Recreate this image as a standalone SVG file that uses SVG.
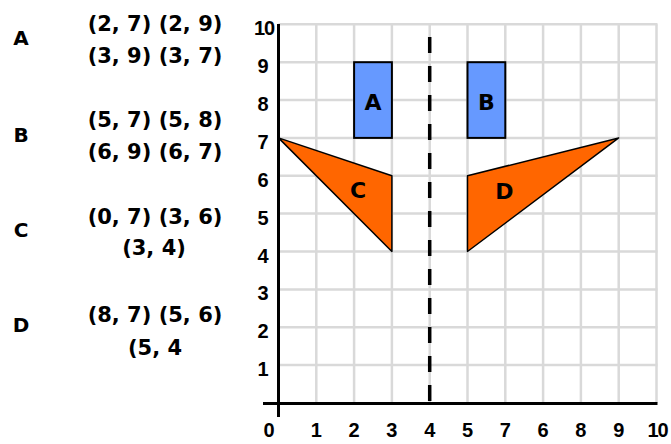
<svg xmlns="http://www.w3.org/2000/svg" width="671" height="444" viewBox="0 0 671 444">
<style>
.grid line{stroke:#d9d9d9;stroke-width:2.5}
.axis{stroke:#000;stroke-width:3;fill:none}
.mirror{stroke:#000;stroke-width:3.5;stroke-dasharray:16 13;fill:none}
.rect{fill:#6699ff;stroke:#000;stroke-width:2}
.tri{fill:#ff6600;stroke:#000;stroke-width:1.5;stroke-linejoin:round}
.lbl{font-family:"DejaVu Sans",sans-serif;font-weight:bold;font-size:20px;fill:#000;text-anchor:middle}
.slbl{font-family:"DejaVu Sans",sans-serif;font-weight:bold;font-size:22px;fill:#000;text-anchor:middle}
.coord{font-family:"DejaVu Sans",sans-serif;font-weight:bold;font-size:21px;fill:#000;text-anchor:middle}
.tick{font-family:"Liberation Sans",Arial,sans-serif;font-weight:bold;font-size:20px;fill:#000;text-anchor:middle}
</style>
<rect width="671" height="444" fill="#fff"/>
<g id="grid" class="grid">
<line x1="316.3" y1="24.3" x2="316.3" y2="403"/>
<line x1="354.1" y1="24.3" x2="354.1" y2="403"/>
<line x1="391.9" y1="24.3" x2="391.9" y2="403"/>
<line x1="429.7" y1="24.3" x2="429.7" y2="403"/>
<line x1="467.5" y1="24.3" x2="467.5" y2="403"/>
<line x1="505.3" y1="24.3" x2="505.3" y2="403"/>
<line x1="543.1" y1="24.3" x2="543.1" y2="403"/>
<line x1="580.9" y1="24.3" x2="580.9" y2="403"/>
<line x1="618.7" y1="24.3" x2="618.7" y2="403"/>
<line x1="656.5" y1="24.3" x2="656.5" y2="403"/>
<line x1="278.5" y1="365.1" x2="657.5" y2="365.1"/>
<line x1="278.5" y1="327.3" x2="657.5" y2="327.3"/>
<line x1="278.5" y1="289.4" x2="657.5" y2="289.4"/>
<line x1="278.5" y1="251.5" x2="657.5" y2="251.5"/>
<line x1="278.5" y1="213.6" x2="657.5" y2="213.6"/>
<line x1="278.5" y1="175.8" x2="657.5" y2="175.8"/>
<line x1="278.5" y1="137.9" x2="657.5" y2="137.9"/>
<line x1="278.5" y1="100.0" x2="657.5" y2="100.0"/>
<line x1="278.5" y1="62.2" x2="657.5" y2="62.2"/>
<line x1="278.5" y1="24.3" x2="657.5" y2="24.3"/>
</g>
<g id="axes">
<line class="axis" x1="278.5" y1="24" x2="278.5" y2="417"/>
<line class="axis" x1="263" y1="403.5" x2="657.5" y2="403.5"/>
<line class="mirror" x1="429.7" y1="37" x2="429.7" y2="403"/>
</g>
<g id="y-ticks">
<text class="tick" x="264" y="35" letter-spacing="-1">10</text>
<text class="tick" x="263" y="73">9</text>
<text class="tick" x="263" y="111">8</text>
<text class="tick" x="263" y="149">7</text>
<text class="tick" x="263" y="187">6</text>
<text class="tick" x="263" y="225">5</text>
<text class="tick" x="263" y="263">4</text>
<text class="tick" x="263" y="300">3</text>
<text class="tick" x="263" y="338">2</text>
<text class="tick" x="263" y="376">1</text>
</g>
<g id="x-ticks">
<text class="tick" x="269" y="437">0</text>
<text class="tick" x="316.3" y="437">1</text>
<text class="tick" x="354.1" y="437">2</text>
<text class="tick" x="391.9" y="437">3</text>
<text class="tick" x="429.7" y="437">4</text>
<text class="tick" x="467.5" y="437">5</text>
<text class="tick" x="505.3" y="437">7</text>
<text class="tick" x="543.1" y="437">6</text>
<text class="tick" x="580.9" y="437">8</text>
<text class="tick" x="618.7" y="437">9</text>
<text class="tick" x="657.5" y="437" letter-spacing="-1">10</text>
</g>
<g id="shape-A">
<rect class="rect" x="354.1" y="62.2" width="37.8" height="75.7"/>
<text class="slbl" x="373" y="110">A</text>
</g>
<g id="shape-B">
<rect class="rect" x="467.5" y="62.2" width="37.8" height="75.7"/>
<text class="slbl" x="486.4" y="110">B</text>
</g>
<g id="shape-C">
<polygon class="tri" points="278.5,137.9 391.9,175.8 391.9,251.5"/>
<text class="slbl" x="358" y="198">C</text>
</g>
<g id="shape-D">
<polygon class="tri" points="618.7,137.9 467.5,175.8 467.5,251.5"/>
<text class="slbl" x="504.5" y="199">D</text>
</g>
<g id="legend-A">
<text class="lbl" x="21" y="45">A</text>
<text class="coord" x="155" y="31">(2, 7) (2, 9)</text>
<text class="coord" x="155" y="63">(3, 9) (3, 7)</text>
</g>
<g id="legend-B">
<text class="lbl" x="21" y="142">B</text>
<text class="coord" x="155" y="127">(5, 7) (5, 8)</text>
<text class="coord" x="155" y="159">(6, 9) (6, 7)</text>
</g>
<g id="legend-C">
<text class="lbl" x="21" y="237">C</text>
<text class="coord" x="155" y="224">(0, 7) (3, 6)</text>
<text class="coord" x="154" y="255">(3, 4)</text>
</g>
<g id="legend-D">
<text class="lbl" x="21" y="332">D</text>
<text class="coord" x="155" y="322">(8, 7) (5, 6)</text>
<text class="coord" x="155" y="355">(5, 4</text>
</g>
</svg>
